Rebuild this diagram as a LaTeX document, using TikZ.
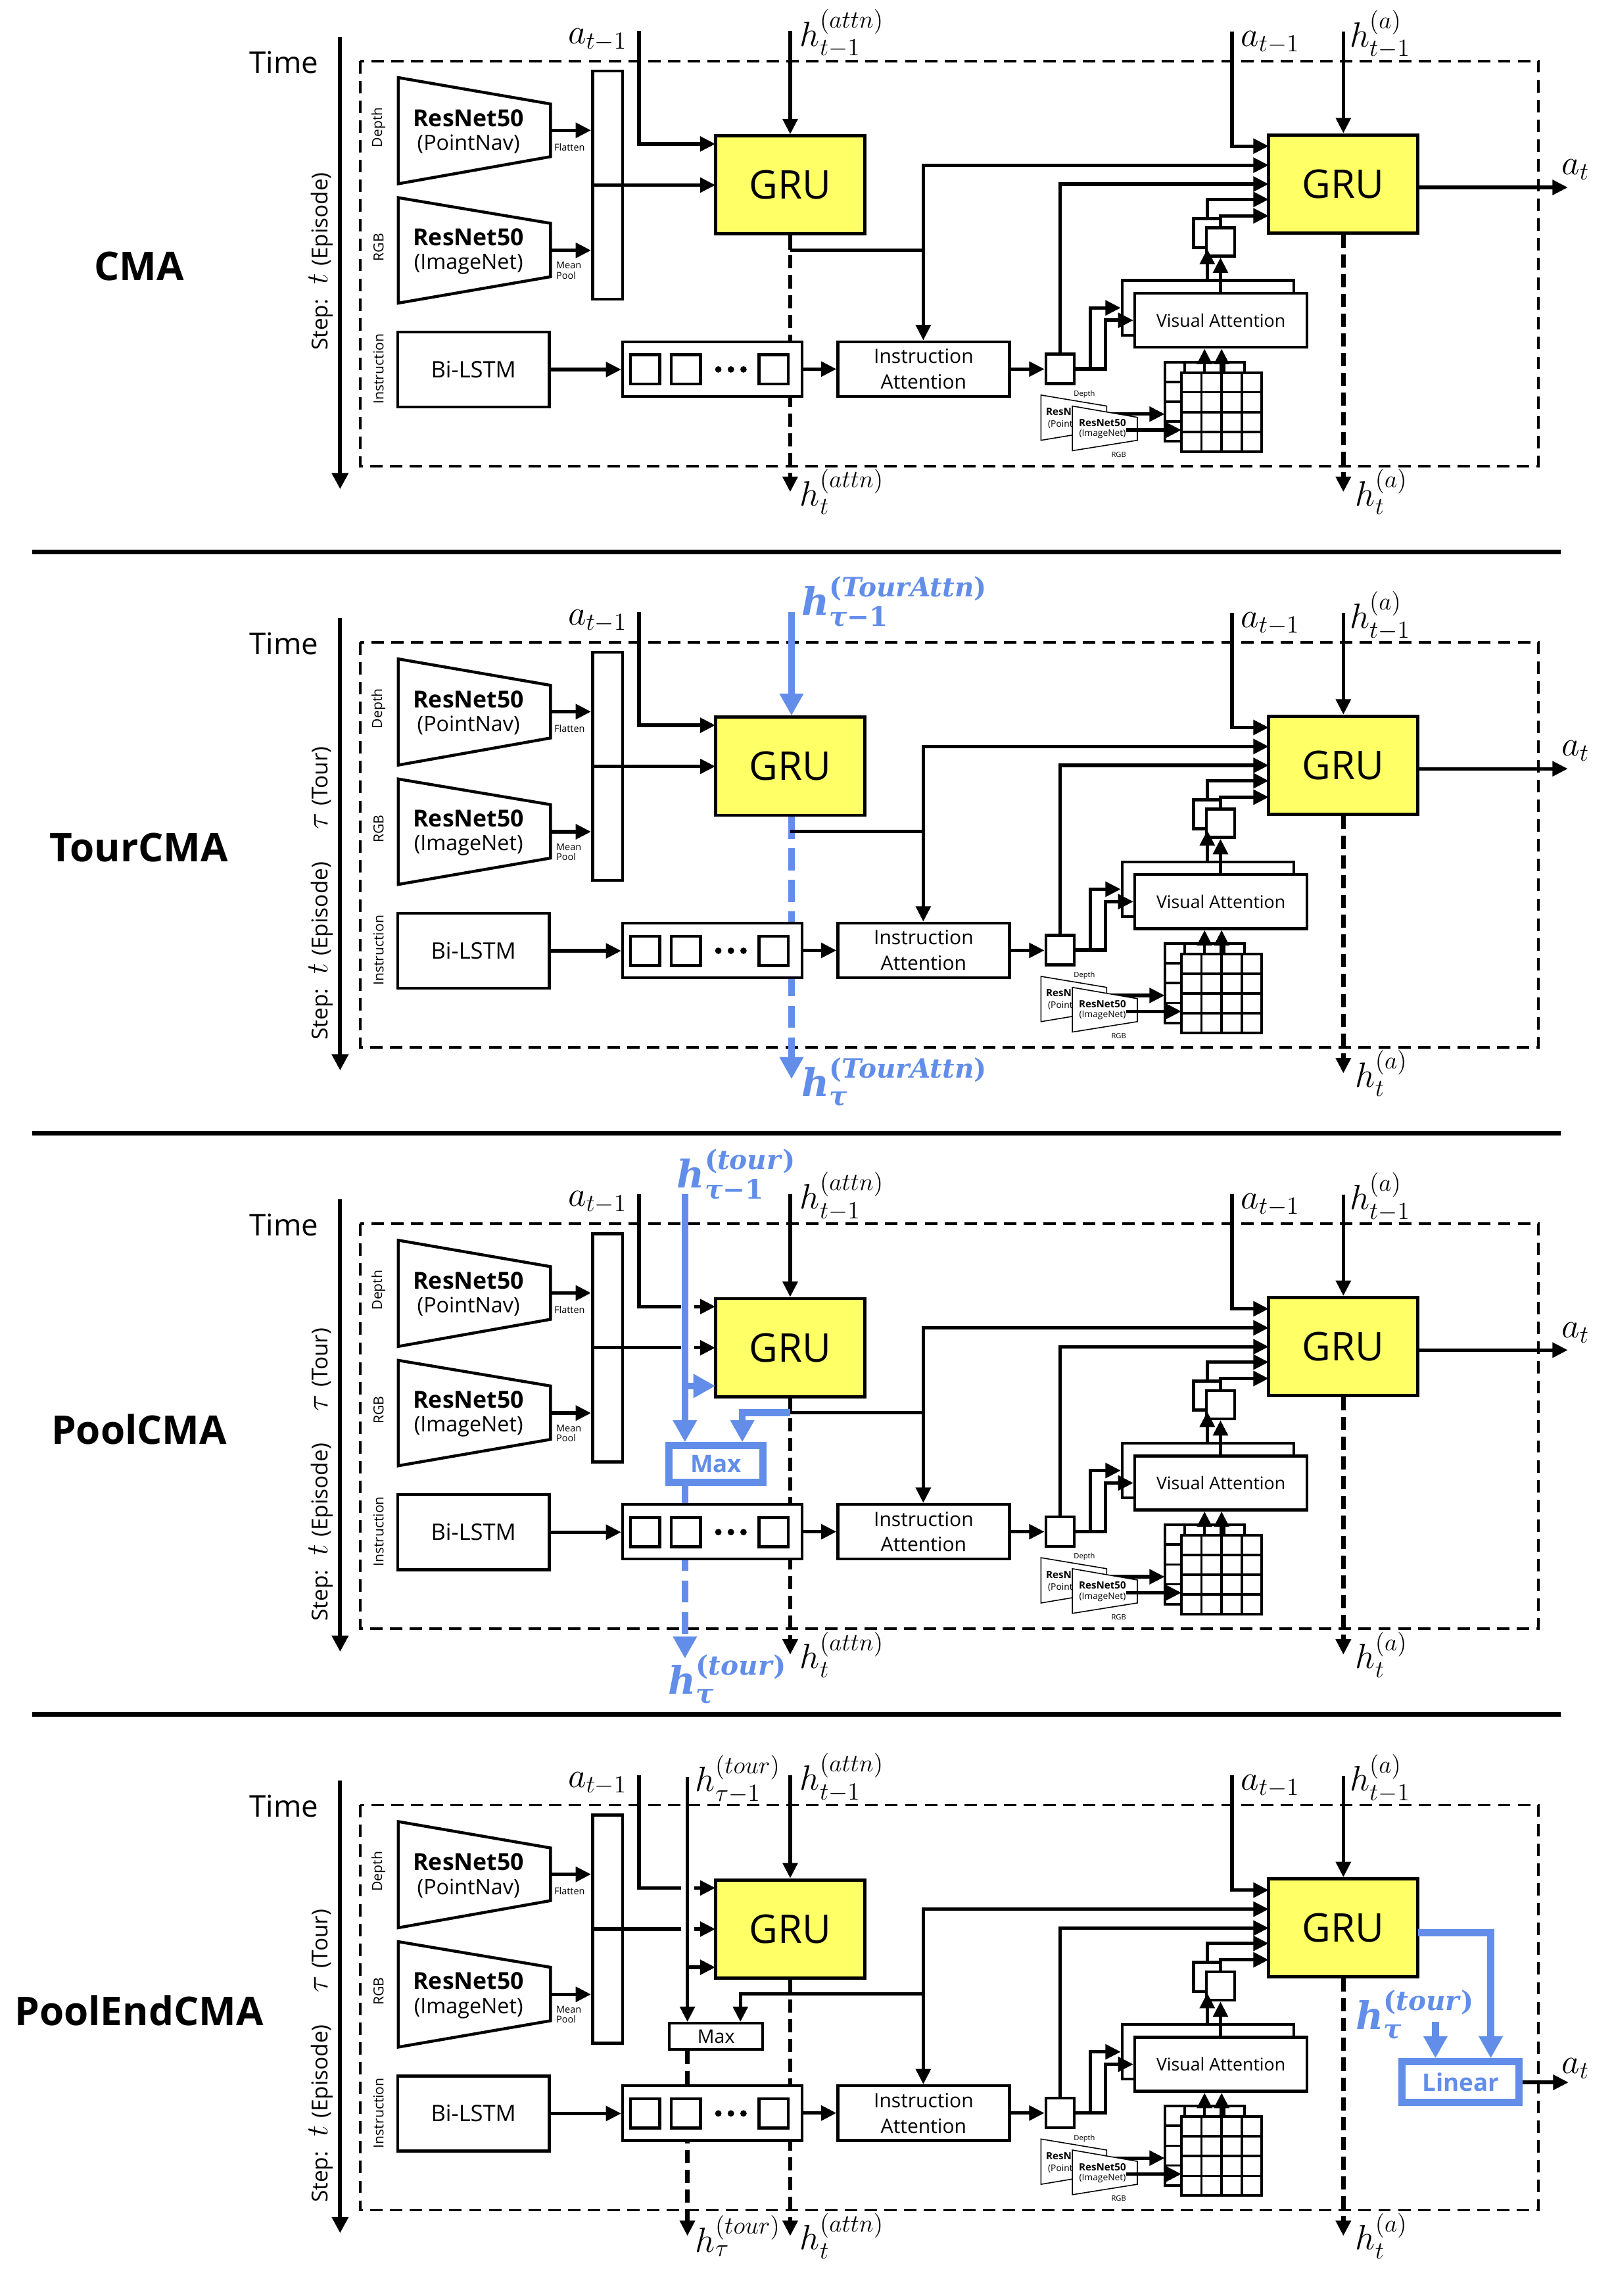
\documentclass[tikz,border=0pt]{standalone}
\usepackage{fix-cm}
\usepackage{amsmath}
\usepackage{fontspec}
\setmainfont{Open Sans}
\newfontfamily\bmfont{DejaVu Serif}
\usetikzlibrary{arrows.meta,calc}
\pgfdeclarelayer{under}
\pgfsetlayers{under,main}

\definecolor{gruyellow}{RGB}{255,255,102}
\definecolor{tourblue}{RGB}{98,142,233}

\newcommand\fsz[1]{\fontsize{#1}{#1}\selectfont}
% bold serif state symbol: #1 superscript word, #2 subscript
\newcommand\bhv[2]{$\text{\bmfont\bfseries\itshape h}^{\text{\bmfont\bfseries(\itshape #1\/\upshape)}}_{\text{\bmfont\bfseries #2}}$}

\tikzset{
  conn/.style={line width=2.4pt},
  ar/.style={conn, -{Triangle[length=10.5pt,width=10pt]}},
  bconn/.style={line width=4.7pt, draw=tourblue},
  bar/.style={bconn, -{Triangle[length=15pt,width=15.5pt]}},
  hdash/.style={line width=3pt, dash pattern=on 9pt off 4.5pt, -{Triangle[length=10.5pt,width=10pt]}},
  bdash/.style={bconn, dash pattern=on 15pt off 6.5pt, -{Triangle[length=15pt,width=15.5pt]}},
  frame/.style={line width=1.6pt, dash pattern=on 8.5pt off 5pt},
  timeax/.style={line width=2.6pt, -{Triangle[length=11pt,width=11pt]}},
  sepline/.style={line width=3.2pt},
  box/.style={draw, line width=2pt, fill=white, inner sep=0pt},
  gridbox/.style={draw, line width=1.8pt, fill=white, inner sep=0pt, outer sep=0pt},
  gru/.style={draw, line width=2.2pt, fill=gruyellow, inner sep=0pt, minimum width=102pt, minimum height=67pt, font=\fsz{27}},
  enc/.style={draw, line width=2pt, fill=white},
  smallenc/.style={draw, line width=0.7pt, fill=white},
  gridl/.style={line width=1.6pt},
  namelbl/.style={font=\fsz{27}\bfseries, inner sep=0pt},
  timelbl/.style={font=\fsz{20.5}, inner sep=0pt},
  steplbl/.style={rotate=90, font=\fsz{15}, inner sep=0pt},
  rowlbl/.style={rotate=90, font=\fsz{9.5}, inner sep=0pt},
  enctxt/.style={font=\fsz{14.5}, inner sep=0pt},
  encbold/.style={font=\fsz{16}\bfseries, inner sep=0pt},
  tinylbl/.style={font=\fontsize{6.5}{6.8}\selectfont, inner sep=0pt, align=left},
  mlbl/.style={font=\fsz{24}, inner sep=0pt},
  blbl/.style={text=tourblue, font=\fsz{26}, inner sep=0pt},
  dot/.style={circle, fill, inner sep=0pt, minimum size=4.4pt},
  bbox/.style={draw=tourblue, line width=4.9pt, fill=white, inner sep=0pt, text=tourblue, font=\fsz{16.5}\bfseries},
}

\newcommand\steponly{Step:\hspace{10pt}{\fsz{21}$t$}\hspace{5pt}(Episode)}
\newcommand\steptour{\steponly\hspace{22pt}{\fsz{21}$\tau$}\hspace{5pt}(Tour)}

% parts shared by all four variants; #1 suffix, #2 name, #3 y of step label, #4 step label
\newcommand\basepanel[4]{%
  \begin{pgfonlayer}{under}
    \coordinate (frNW#1) at (246,41.7);
    \coordinate (frSE#1) at (1050.7,318.3);
    \draw[frame] (frNW#1) rectangle (frSE#1);
  \end{pgfonlayer}
  \node[namelbl] (name#1) at (95,182) {#2};
  \node[timelbl] (time#1) at (194,42.5) {Time};
  \coordinate (axT#1) at (232.3,25);
  \coordinate (axB#1) at (232.3,334);
  \draw[timeax] (axT#1) -- (axB#1);
  \node[steplbl] (step#1) at (219,#3) {#4};
  \node[rowlbl] (rowD#1) at (258.5,87) {Depth};
  \node[rowlbl] (rowR#1) at (258.5,169) {RGB};
  \node[rowlbl] (rowI#1) at (258.5,252) {Instruction};
  % depth and RGB encoders
  \draw[enc] (272,53) -- (376,71) -- (376,107) -- (272,125.5) -- cycle;
  \coordinate (encD#1) at (376,89);
  \node[encbold] (rnD#1) at (320,80.5) {ResNet50};
  \node[enctxt] (rnDs#1) at (320,98.5) {(PointNav)};
  \draw[enc] (272,135) -- (376,152.5) -- (376,189) -- (272,207) -- cycle;
  \coordinate (encR#1) at (376,171);
  \node[encbold] (rnR#1) at (320,162) {ResNet50};
  \node[enctxt] (rnRs#1) at (320,180.5) {(ImageNet)};
  % concatenated features
  \node[box, minimum width=20.6pt, minimum height=155.8pt] (cat#1) at (415,126.4) {};
  \draw[ar] (encD#1) -- (encD#1 -| cat#1.west);
  \draw[ar] (encR#1) -- (encR#1 -| cat#1.west);
  \node[tinylbl] (flat#1) at (389,100.5) {Flatten};
  \node[tinylbl] (pool#1) at (388.5,184.7) {Mean\\Pool};
  % recurrent units
  \node[gru] (gruA#1) at (539.7,126.3) {GRU};
  \node[gru] (gruB#1) at (917.5,125.6) {GRU};
  \coordinate (gAi1#1) at (488.6,98.3);
  \coordinate (gAi2#1) at (488.6,126.4);
  \coordinate (gAi3#1) at (488.6,152.5);
  \coordinate (gBi1#1) at (866.5,99.8);
  \coordinate (gBi2#1) at (866.5,112.8);
  \coordinate (gBi3#1) at (866.5,125.7);
  \coordinate (gBi4#1) at (866.5,136.2);
  \coordinate (gBi5#1) at (866.5,147.4);
  % instruction branch
  \node[box, minimum width=103.6pt, minimum height=51.3pt, font=\fsz{15.5}] (lstm#1) at (323.4,252.35) {Bi-LSTM};
  \node[box, minimum width=122.5pt, minimum height=37.3pt] (seq#1) at (486.55,252.05) {};
  \node[box, minimum size=20pt] (ca#1) at (440.5,252.3) {};
  \node[box, minimum size=20pt] (cb#1) at (468.4,252.3) {};
  \node[box, minimum size=20pt] (cc#1) at (528.3,252.3) {};
  \node[dot] (da#1) at (490.6,252.3) {};
  \node[dot] (db#1) at (499.2,252.3) {};
  \node[dot] (dc#1) at (507.8,252.3) {};
  \node[box, minimum width=117.1pt, minimum height=37.3pt, align=center, font=\fontsize{13.5}{17.4}\selectfont] (ia#1) at (630.85,252.05) {Instruction\\Attention};
  \node[box, minimum width=19.3pt, minimum height=20.2pt] (sq#1) at (724,251.9) {};
  \draw[ar] (lstm#1.east) -- (lstm#1.east -| seq#1.west);
  \draw[ar] (seq#1.east) -- (seq#1.east -| ia#1.west);
  \draw[ar] (ia#1.east) -- (ia#1.east -| sq#1.west);
  % visual attention
  \node[box, minimum width=117.2pt, minimum height=37.3pt] (vaB#1) at (825.1,210.25) {};
  \node[box, minimum width=117.6pt, minimum height=36.9pt, font=\fsz{12}] (vaF#1) at (833.9,218.75) {Visual Attention};
  \node[box, minimum width=18.7pt, minimum height=19.8pt] (smB#1) at (824.55,159.1) {};
  \node[box, minimum width=19.2pt, minimum height=19.3pt] (smF#1) at (833.6,165.25) {};
  % spatial feature grids
  \node[gridbox, minimum width=54.4pt, minimum height=54.3pt] (gdB#1) at (822.7,274.35) {};
  \foreach \k in {1,2,3}{
    \draw[gridl] ($(gdB#1.north west)!\k/4!(gdB#1.north east)$) -- ($(gdB#1.south west)!\k/4!(gdB#1.south east)$);
    \draw[gridl] ($(gdB#1.north west)!\k/4!(gdB#1.south west)$) -- ($(gdB#1.north east)!\k/4!(gdB#1.south east)$);
  }
  \node[gridbox, minimum width=54.9pt, minimum height=54.1pt] (gdF#1) at (834.35,281.45) {};
  \foreach \k in {1,2,3}{
    \draw[gridl] ($(gdF#1.north west)!\k/4!(gdF#1.north east)$) -- ($(gdF#1.south west)!\k/4!(gdF#1.south east)$);
    \draw[gridl] ($(gdF#1.north west)!\k/4!(gdF#1.south west)$) -- ($(gdF#1.north east)!\k/4!(gdF#1.south east)$);
  }
  % small encoder icons feeding the grids (the depth one half hidden)
  \draw[smallenc] (711,269.8) -- (755.9,277.3) -- (755.9,293.2) -- (711,300.7) -- cycle;
  \node[font=\fsz{6.8}\bfseries, inner sep=0pt, anchor=west] (icD#1) at (714.3,281.3) {ResN};
  \node[font=\fsz{6.2}, inner sep=0pt, anchor=west] (icDs#1) at (715.6,290) {(Point};
  \node[font=\fsz{5}, inner sep=0pt] (icDl#1) at (740.6,269.3) {Depth};
  \coordinate (icDo#1) at (755.9,282.8);
  \draw[ar] (icDo#1) -- (icDo#1 -| gdB#1.west);
  \draw[smallenc] (732.4,277.3) -- (776.8,285) -- (776.8,300.7) -- (732.4,307.8) -- cycle;
  \node[font=\fsz{6.8}\bfseries, inner sep=0pt] (icR#1) at (753,288.8) {ResNet50};
  \node[font=\fsz{6.2}, inner sep=0pt] (icRs#1) at (753,296.6) {(ImageNet)};
  \node[font=\fsz{5}, inner sep=0pt] (icRl#1) at (764.1,310.5) {RGB};
  \coordinate (icRo#1) at (769,293.7);
  \draw[ar] (icRo#1) -- (icRo#1 -| gdF#1.west);
  \draw[ar] (gdB#1.north) -- (gdB#1.north |- vaF#1.south);
  \draw[ar] (gdF#1.north) -- (gdF#1.north |- vaF#1.south);
  \draw[ar] (smB#1.south |- vaB#1.north) -- (smB#1.south);
  \draw[ar] (smF#1.south |- vaF#1.north) -- (smF#1.south);
  \draw[ar] (smB#1.north) |- (gBi4#1);
  \draw[ar] (smF#1.north) |- (gBi5#1);
  \coordinate (vx1#1) at (744.7,251.9);
  \coordinate (vx2#1) at (755,251.9);
  \draw[ar] (sq#1.east) -- (vx1#1) |- (vaB#1.west);
  \draw[ar] (sq#1.east) -- (vx2#1) |- (vaF#1.west);
  \draw[ar] (sq#1.north) |- (gBi3#1);
  % state of the first GRU to the attention and the second GRU
  \coordinate (jA#1) at (539.7,170.8);
  \coordinate (jn#1) at (630.6,170.8);
  \draw[conn] (jA#1) -- (jn#1);
  \draw[ar] (jn#1) -- (jn#1 |- ia#1.north);
  \draw[ar] (jn#1) |- (gBi2#1);
  % inputs and outputs of the second GRU
  \coordinate (aL#1) at (436.5,21.2);
  \node[mlbl] (laL#1) at (408,27) {$a_{t-1}$};
  \coordinate (aR#1) at (841.5,21.4);
  \draw[ar] (aR#1) |- (gBi1#1);
  \node[mlbl] (laR#1) at (867.5,29) {$a_{t-1}$};
  \coordinate (hR#1) at (917.5,21.7);
  \draw[ar] (hR#1) -- (gruB#1.north);
  \node[mlbl] (lhR#1) at (942.5,23.5) {$h_{t-1}^{(a)}$};
  \coordinate (hRo#1) at (917.5,336);
  \begin{pgfonlayer}{under}
    \draw[hdash] (gruB#1.south) -- (hRo#1);
  \end{pgfonlayer}
  \node[mlbl] (lhRo#1) at (943.5,336) {$h_t^{(a)}$};
}

% previous action and visual features into the first GRU; #2/#3 bound a gap
\newcommand\feeds[3]{%
  \coordinate (gpa#1) at (#2,98.3);
  \coordinate (gqa#1) at (#3,98.3);
  \coordinate (gpb#1) at (#2,126.4);
  \coordinate (gqb#1) at (#3,126.4);
  \draw[conn] (aL#1) |- (gpa#1);
  \draw[ar] (gqa#1) -- (gAi1#1);
  \draw[conn] (cat#1.west) -- (gpb#1);
  \draw[ar] (gqb#1) -- (gAi2#1);
}

% attention state in and out of the first GRU
\newcommand\attnio[1]{%
  \coordinate (hA#1) at (539.7,21.2);
  \draw[ar] (hA#1) -- (gruA#1.north);
  \node[mlbl] (lhA#1) at (575,23) {$h_{t-1}^{(attn)}$};
  \coordinate (hAo#1) at (539.7,336);
  \begin{pgfonlayer}{under}
    \draw[hdash] (gruA#1.south) -- (hAo#1);
  \end{pgfonlayer}
  \node[mlbl] (lhAo#1) at (575,336) {$h_t^{(attn)}$};
  \draw[conn] (gruA#1.south) -- (jA#1);
}

% action output of the second GRU
\newcommand\actout[1]{%
  \coordinate (gBo#1) at (968.5,128);
  \coordinate (atp#1) at (1070.8,128);
  \draw[ar] (gBo#1) -- (atp#1);
  \node[mlbl] (lat#1) at (1076,116) {$a_t$};
}

\begin{document}
\begin{tikzpicture}[x=1pt,y=-1pt]
\useasboundingbox (0,0) rectangle (1102,1568);

% ---------------- CMA ----------------
\begin{scope}
  \basepanel{a}{CMA}{178.5}{\steponly}
  \feeds{a}{470}{470}
  \attnio{a}
  \actout{a}
\end{scope}

% ---------------- TourCMA ----------------
\begin{scope}[shift={(0,397)}]
  \basepanel{b}{TourCMA}{213}{\steptour}
  \feeds{b}{470}{470}
  \coordinate (tAb) at (540.6,21);
  \draw[bar] (tAb) -- (tAb |- gruAb.north);
  \node[blbl] (ltAb) at (611,14) {\bhv{TourAttn}{\itshape τ\upshape−1}};
  \coordinate (tAob) at (540.6,339.9);
  \begin{pgfonlayer}{under}
    \draw[bdash] (tAb |- gruAb.south) -- (tAob);
  \end{pgfonlayer}
  \node[blbl] (ltAob) at (611,342) {\bhv{TourAttn}{\itshape τ}};
  \actout{b}
\end{scope}

% ---------------- PoolCMA ----------------
\begin{scope}[shift={(0,794)}]
  \basepanel{c}{PoolCMA}{213}{\steptour}
  \feeds{c}{465.3}{474}
  \attnio{c}
  \node[bbox, minimum width=64.4pt, minimum height=25.1pt] (mxc) at (489.05,205.9) {Max};
  \coordinate (tTc) at (467.8,21.4);
  \draw[bar] (tTc) -- (tTc |- mxc.north);
  \coordinate (tTbc) at (467.8,152.5);
  \draw[bar] (tTbc) -- (gAi3c);
  \coordinate (jBc) at (507,170.8);
  \draw[bar] (jAc) -- (jBc) -- (jBc |- mxc.north);
  \coordinate (tToc) at (467.8,338.6);
  \begin{pgfonlayer}{under}
    \draw[bdash] (tTc |- mxc.south) -- (tToc);
  \end{pgfonlayer}
  \node[blbl] (ltTc) at (503,8) {\bhv{tour}{\itshape τ\upshape−1}};
  \node[blbl] (ltToc) at (497,353) {\bhv{tour}{\itshape τ}};
  \actout{c}
\end{scope}

% ---------------- PoolEndCMA ----------------
\begin{scope}[shift={(0,1191)}]
  \basepanel{d}{PoolEndCMA}{213}{\steptour}
  \feeds{d}{465.3}{474.3}
  \attnio{d}
  \node[box, line width=1.8pt, minimum width=63.6pt, minimum height=18.1pt, font=\fsz{12.8}] (mxd) at (489.1,199.75) {Max};
  \coordinate (tTd) at (469.5,22.6);
  \draw[ar] (tTd) -- (tTd |- mxd.north);
  \coordinate (tTbd) at (469.5,152.5);
  \draw[ar] (tTbd) -- (gAi3d);
  \coordinate (jBd) at (505.7,170.8);
  \draw[ar] (jAd) -- (jBd) -- (jBd |- mxd.north);
  \coordinate (tTod) at (469.5,336);
  \begin{pgfonlayer}{under}
    \draw[hdash] (tTd |- mxd.south) -- (tTod);
  \end{pgfonlayer}
  \node[mlbl] (ltTd) at (504,24) {$h^{(tour)}_{\tau-1}$};
  \node[mlbl] (ltTod) at (504,336) {$h^{(tour)}_{\tau}$};
  % tour memory fused with the action state
  \node[bbox, minimum width=80pt, minimum height=27.6pt] (lind) at (997.6,230.85) {Linear};
  \coordinate (gBod) at (968.5,128.9);
  \coordinate (bkd) at (1018.2,128.9);
  \draw[bar] (gBod) -- (bkd) -- (bkd |- lind.north);
  \coordinate (tLd) at (980.4,189.8);
  \draw[bar] (tLd) -- (tLd |- lind.north);
  \node[blbl] (ltLd) at (966.5,185) {\bhv{tour}{\itshape τ}};
  \coordinate (atd) at (1071.3,231.1);
  \draw[ar] (lind.east |- atd) -- (atd);
  \node[mlbl] (latd) at (1076,221.7) {$a_t$};
\end{scope}

% separators between the variants
\coordinate (s1l) at (22,377);  \coordinate (s1r) at (1066,377);
\coordinate (s2l) at (22,774);  \coordinate (s2r) at (1066,774);
\coordinate (s3l) at (22,1171); \coordinate (s3r) at (1066,1171);
\draw[sepline] (s1l) -- (s1r);
\draw[sepline] (s2l) -- (s2r);
\draw[sepline] (s3l) -- (s3r);
\end{tikzpicture}
\end{document}
